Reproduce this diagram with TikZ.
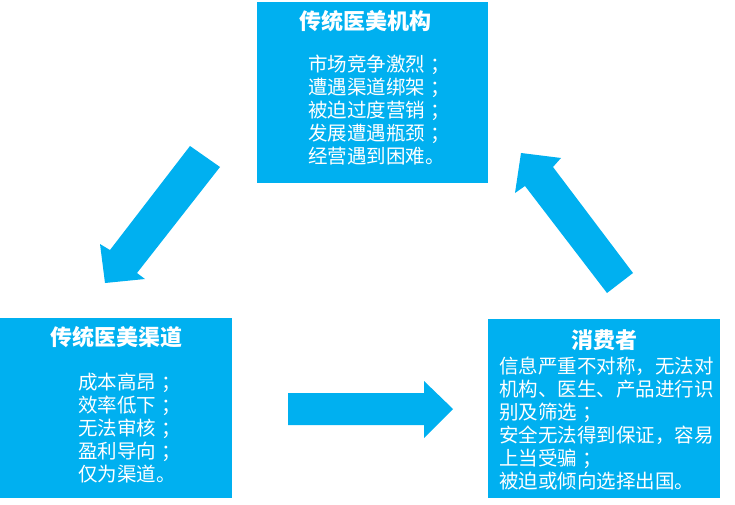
\documentclass[tikz,border=0pt]{standalone}
\usepackage{fontspec}
\newfontfamily\cjk{Noto Sans CJK SC}
\definecolor{boxblue}{RGB}{0,176,240}
\newcommand{\cjksemi}{\kern0.25em；}
\begin{document}
\begin{tikzpicture}[x=1pt,y=-1pt,
  panel/.style={fill=boxblue,draw=none,inner sep=0pt,anchor=north west},
  ttl/.style={text=white,font=\cjk\bfseries\fontsize{22pt}{26pt}\selectfont,inner sep=0pt,anchor=center},
  body/.style={text=white,font=\cjk\fontsize{19.5pt}{23pt}\selectfont,inner sep=0pt,anchor=north west,align=left},
  blockarrow/.style={fill=boxblue,draw=none}]
\useasboundingbox (0,0) rectangle (735,505);
% panels
\node[panel,minimum width=231pt,minimum height=181pt] (top) at (257,2) {};
\node[panel,minimum width=232pt,minimum height=180pt] (left) at (0,318) {};
\node[panel,minimum width=232pt,minimum height=179pt] (right) at (488,319) {};
% titles
\node[ttl] (toptitle) at (365,21) {传统医美机构};
\node[ttl] (lefttitle) at (116,337) {传统医美渠道};
\node[ttl] (righttitle) at (604,340) {消费者};
% bodies
\node[body] (topbody) at (308,55) {市场竞争激烈\cjksemi\\遭遇渠道绑架\cjksemi\\被迫过度营销\cjksemi\\发展遭遇瓶颈\cjksemi\\经营遇到困难。};
\node[body] (leftbody) at (78,373) {成本高昂\cjksemi\\效率低下\cjksemi\\无法审核\cjksemi\\盈利导向\cjksemi\\仅为渠道。};
\node[body] (rightbody) at (499,357) {信息严重不对称，无法对\\机构、医生、产品进行识\\别及筛选\cjksemi\\安全无法得到保证，容易\\上当受骗\cjksemi\\被迫或倾向选择出国。};
% block arrows
\fill[blockarrow] (190,146) -- (220,167) -- (137,273) -- (145,279) -- (105,283) -- (100,244) -- (110,250) -- cycle;
\fill[blockarrow] (607,293) -- (525,186) -- (515,193) -- (521,153) -- (561,158) -- (553,167) -- (633,273) -- cycle;
\fill[blockarrow] (288,393) -- (424,393) -- (424,381) -- (453,409) -- (424,438) -- (424,425) -- (288,425) -- cycle;
\end{tikzpicture}
\end{document}
